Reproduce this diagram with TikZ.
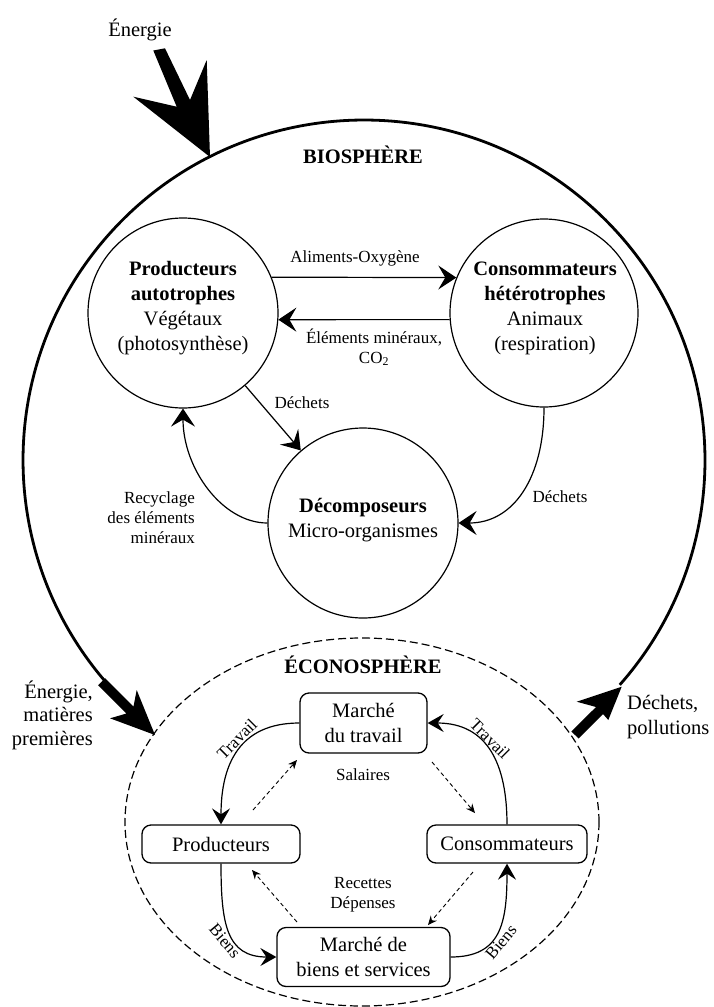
\documentclass[tikz,border=0pt]{standalone}
\usepackage{fontspec}
\setmainfont{Liberation Serif}
\usetikzlibrary{arrows.meta,calc}
\tikzset{
 bio/.style={circle,draw,line width=1.2pt,minimum size=190pt,inner sep=0pt},
 big/.style={font=\fontsize{20.5}{25}\selectfont, align=center, inner sep=0pt},
 lab/.style={font=\fontsize{17}{20}\selectfont, align=center, inner sep=0pt},
 bioarr/.style={line width=1.2pt,-{Stealth[length=18pt,width=24pt,inset=7pt]}},
 ecoarr/.style={line width=1.2pt,-{Stealth[length=16pt,width=18pt,inset=6pt]}},
 dasharr/.style={line width=0.9pt,dash pattern=on 4pt off 3pt,-{Stealth[length=9pt,width=8pt,inset=3pt]}},
 box/.style={draw,rounded corners=9pt,line width=1.3pt,inner sep=0pt,font=\fontsize{20.5}{24.5}\selectfont,align=center}
}
\begin{document}
\begin{tikzpicture}[x=1pt,y=-1pt]
\useasboundingbox (0,0) rectangle (713,1007);

% econosphere boundary
\draw[line width=1.2pt, dash pattern=on 8pt off 4pt] (362,822) ellipse [x radius=237pt, y radius=184pt];

% biosphere boundary arc
\draw[line width=2.8pt] (364,460) ++(-41.4:341pt and 340pt) arc[start angle=-41.4,end angle=220.3,x radius=341pt,y radius=340pt];

% big arrows
\fill (153.3,50.5) -- (176.7,106.7) -- (133.3,96.7) -- (210,157) -- (206.7,60) -- (190,100) -- (165,48.3) -- cycle;
\fill (105.2,678.2) -- (133.5,706.5) -- (136.7,690) -- (155,735) -- (110,718.3) -- (126.5,713.5) -- (98.2,685.2) -- cycle;
\fill (571.4,731.5) -- (596,707) -- (576.7,701.7) -- (621.7,686.7) -- (608.3,720) -- (603,714) -- (578.6,738.5) -- cycle;

\node[big] (en) at (140,30) {Énergie};
\node[big, align=right, anchor=east, font=\fontsize{20.5}{23.5}\selectfont] (emp) at (93,715) {Énergie,\\matières\\premières};
\node[big, align=left, anchor=west, font=\fontsize{20.5}{24.5}\selectfont] (dp) at (627,717) {Déchets,\\pollutions};

\node[big] (bios) at (363,155) {\textbf{BIOSPHÈRE}};
\node[big] (ecos) at (363,665) {\textbf{ÉCONOSPHÈRE}};

% biosphere
\node[bio] (P) at (183,313) {};
\node[bio, minimum size=188pt] (C) at (544,313) {};
\node[bio] (D) at (363,523) {};
\node[big] (Pt) at (183,308) {\textbf{Producteurs}\\\textbf{autotrophes}\\Végétaux\\(photosynthèse)};
\node[big] (Ct) at (545,308) {\textbf{Consommateurs}\\\textbf{hétérotrophes}\\Animaux\\(respiration)};
\node[big] (Dt) at (363,520) {\textbf{Décomposeurs}\\Micro-organismes};

\draw[bioarr] (P.22) -- (C.158);
\draw[bioarr] (C.184) -- (P.-4);
\draw[bioarr] (P) -- (D);
\draw[bioarr] (D.west) .. controls +(-45,0) and +(0,60) .. (P.south);
\draw[bioarr] (C.south) .. controls +(0,70) and +(55,0) .. (D.east);

\node[lab] (al) at (355,258) {Aliments-Oxygène};
\node[lab] (el) at (374,347) {Éléments minéraux,\\CO\textsubscript{2}};
\node[lab] (de1) at (302,403) {Déchets};
\node[lab] (de2) at (560,497) {Déchets};
\node[lab, align=right, anchor=east] (rec) at (195,518) {Recyclage\\des éléments\\minéraux};

% econosphere
\node[box, minimum width=127pt, minimum height=60pt] (MT) at (363.5,723) {Marché\\du travail};
\node[box, minimum width=158pt, minimum height=38pt] (PR) at (221,844) {Producteurs};
\node[box, minimum width=160pt, minimum height=38pt] (CO) at (507,844) {Consommateurs};
\node[box, minimum width=173pt, minimum height=59pt] (MB) at (363.5,957) {Marché de\\biens et services};

\draw[ecoarr] (MT.west) .. controls +(-60,0) and +(0,-60) .. (PR.north);
\draw[ecoarr] (CO.north) .. controls +(0,-60) and +(60,0) .. (MT.east);
\draw[ecoarr] (PR.south) .. controls +(0,60) and +(-50,0) .. (MB.west);
\draw[ecoarr] (MB.east) .. controls +(50,0) and +(0,60) .. (CO.south);

\coordinate (d1a) at (253,810); \coordinate (d1b) at (297,760);
\coordinate (d2a) at (432,762); \coordinate (d2b) at (475,813);
\coordinate (d3a) at (297,922); \coordinate (d3b) at (252,870);
\coordinate (d4a) at (473,872); \coordinate (d4b) at (428,925);
\draw[dasharr] (d1a) -- (d1b);
\draw[dasharr] (d2a) -- (d2b);
\draw[dasharr] (d3a) -- (d3b);
\draw[dasharr] (d4a) -- (d4b);

\node[lab] (sal) at (363,775) {Salaires};
\node[lab] (rd) at (363,895) {Recettes\\Dépenses};
\node[lab, rotate=45] (tr1) at (237,739) {Travail};
\node[lab, rotate=-45] (tr2) at (490,739) {Travail};
\node[lab, rotate=-50] (bi1) at (225,941) {Biens};
\node[lab, rotate=50] (bi2) at (501,942) {Biens};
\end{tikzpicture}
\end{document}
